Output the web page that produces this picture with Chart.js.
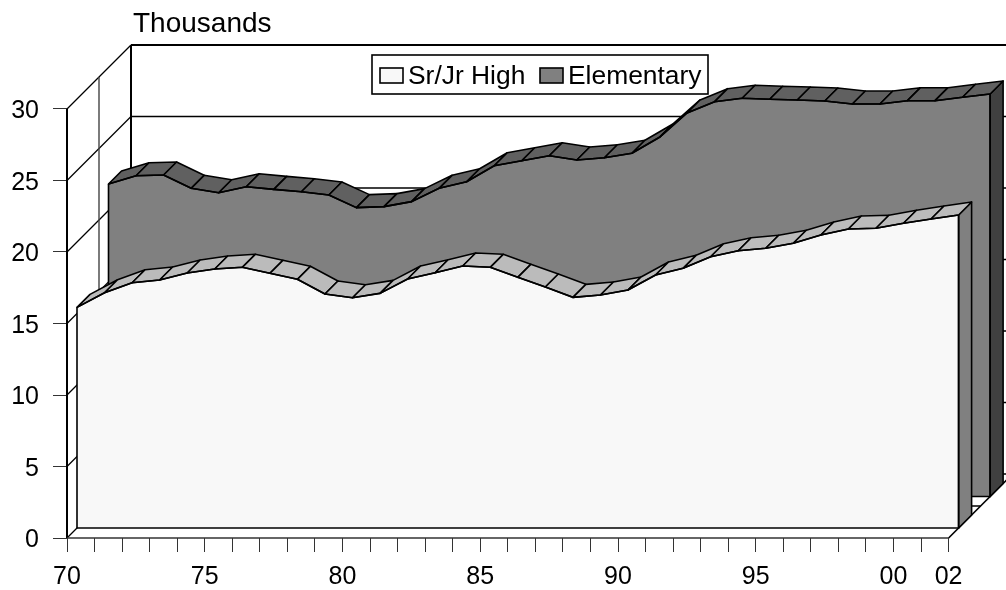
<!DOCTYPE html>
<html lang="en">
<head>
<meta charset="utf-8" />
<title>Enrollment</title>
<script src="https://cdn.jsdelivr.net/npm/chart.js"></script>
<style>
  html, body { margin: 0; padding: 0; background: #fff; }
  canvas { display: block; }
</style>
</head>
<body>
<canvas id="chart" width="1006" height="590"></canvas>
<script>
// data (thousands)
const years = [70,71,72,73,74,75,76,77,78,79,80,81,82,83,84,85,86,87,88,89,90,91,92,93,94,95,96,97,98,99,100,101,102];
const srJrHigh = [15.43,16.45,17.15,17.34,17.83,18.11,18.23,17.81,17.39,16.36,16.10,16.41,17.41,17.85,18.32,18.23,17.53,16.85,16.13,16.29,16.64,17.69,18.16,18.97,19.39,19.56,19.91,20.49,20.91,20.96,21.31,21.61,21.89];
const elementary = [21.85,22.43,22.48,21.55,21.24,21.66,21.48,21.31,21.08,20.20,20.27,20.62,21.55,22.01,23.13,23.48,23.83,23.53,23.69,24.00,25.12,26.82,27.61,27.85,27.78,27.73,27.66,27.45,27.45,27.68,27.68,27.92,28.15];
const seriesNames = ["Sr/Jr High", "Elementary"];
const yTicks = [0,5,10,15,20,25,30];
const xTickLabels = {70:"70",75:"75",80:"80",85:"85",90:"90",95:"95",100:"00",102:"02"};
const unitLabel = "Thousands";

// 3D look: every series sits on its own plane, pushed back along the diagonal
const PX_PER_YEAR = 27.55, PX_PER_UNIT = 14.3;
const LEFT = 67, TOP = 45, BOTTOM = 538, WIDTH = 1006, HEIGHT = 590;
const X_SPAN = (WIDTH - LEFT) / PX_PER_YEAR, Y_SPAN = (BOTTOM - TOP) / PX_PER_UNIT;
const WALL_DEPTH = 64, MID_DEPTH = 32, SERIES_DEPTH = 13;
const FONT = '"Liberation Sans", Arial, sans-serif';

function planeX(shift) {
  const min = 70 - shift / PX_PER_YEAR;
  return { type: "linear", display: false, min: min, max: min + X_SPAN };
}
function planeY(shift) {
  const min = -shift / PX_PER_UNIT;
  return { type: "linear", display: false, min: min, max: min + Y_SPAN };
}
function toPoints(values) {
  return values.map((v, i) => ({ x: years[i], y: v }));
}
function segment(ctx, x1, y1, x2, y2, width, color) {
  ctx.beginPath();
  ctx.moveTo(x1, y1);
  ctx.lineTo(x2, y2);
  ctx.lineWidth = width;
  ctx.strokeStyle = color;
  ctx.stroke();
}
function polygon(ctx, pts, fill) {
  ctx.beginPath();
  pts.forEach((p, i) => i ? ctx.lineTo(p[0], p[1]) : ctx.moveTo(p[0], p[1]));
  ctx.closePath();
  ctx.fillStyle = fill;
  ctx.fill();
  ctx.lineWidth = 1.6;
  ctx.strokeStyle = "#000";
  ctx.lineJoin = "round";
  ctx.stroke();
}

const wallPlugin = {
  id: "wall",
  beforeDatasetsDraw(chart) {
    const ctx = chart.ctx, xs = chart.scales.x, ys = chart.scales.y;
    const x0 = xs.getPixelForValue(70), x1 = xs.getPixelForValue(102), y0 = ys.getPixelForValue(0);
    ctx.save();
    yTicks.forEach(v => {
      const y = ys.getPixelForValue(v);
      segment(ctx, x0, y, x0 + WALL_DEPTH, y - WALL_DEPTH, 1.3, "#000");
      segment(ctx, x0 + WALL_DEPTH, y - WALL_DEPTH, WIDTH, y - WALL_DEPTH, v === 30 ? 2 : 1.3, "#000");
    });
    segment(ctx, x0, ys.getPixelForValue(30), x0, y0, 2, "#000");
    segment(ctx, x0 + WALL_DEPTH, ys.getPixelForValue(30) - WALL_DEPTH, x0 + WALL_DEPTH, y0 - WALL_DEPTH, 2, "#000");
    // floor
    segment(ctx, x0, y0, x1, y0, 1.3, "#333");
    segment(ctx, x1, y0, x1 + WALL_DEPTH, y0 - WALL_DEPTH, 1.6, "#000");
    // divider between the two series planes
    segment(ctx, x0 + MID_DEPTH, ys.getPixelForValue(30) - MID_DEPTH, x0 + MID_DEPTH, y0 - MID_DEPTH, 1.4, "#444");
    segment(ctx, x0 + MID_DEPTH, y0 - MID_DEPTH, x1 + MID_DEPTH, y0 - MID_DEPTH, 1.3, "#000");
    ctx.restore();
  },
  beforeDatasetDraw(chart, args) {
    const ctx = chart.ctx, ds = chart.data.datasets[args.index], pts = args.meta.data;
    const base = args.meta.yScale.getPixelForValue(0), d = SERIES_DEPTH;
    ctx.save();
    // end face
    const e = pts[pts.length - 1];
    polygon(ctx, [[e.x, e.y], [e.x + d, e.y - d], [e.x + d, base - d], [e.x, base]], ds.sideColor);
    // top strip, one facet per year
    for (let i = 0; i < pts.length - 1; i++) {
      const a = pts[i], b = pts[i + 1];
      polygon(ctx, [[a.x, a.y], [b.x, b.y], [b.x + d, b.y - d], [a.x + d, a.y - d]], ds.topColor);
    }
    ctx.restore();
  },
  afterDatasetDraw(chart, args) {
    const ctx = chart.ctx, pts = args.meta.data;
    const base = args.meta.yScale.getPixelForValue(0);
    const a = pts[0], e = pts[pts.length - 1];
    ctx.save();
    ctx.beginPath();
    ctx.moveTo(a.x, a.y);
    ctx.lineTo(a.x, base);
    ctx.lineTo(e.x, base);
    ctx.lineTo(e.x, e.y);
    ctx.lineWidth = 1.6;
    ctx.strokeStyle = "#000";
    ctx.stroke();
    ctx.restore();
  },
  afterDatasetsDraw(chart) {
    const ctx = chart.ctx;
    ctx.save();
    ctx.fillStyle = "#000";
    ctx.textBaseline = "alphabetic";
    ctx.font = "28px " + FONT;
    ctx.fillText(unitLabel, 133, 32);
    // legend
    ctx.fillStyle = "#fff";
    ctx.fillRect(372, 55, 336, 39);
    ctx.lineWidth = 1.6;
    ctx.strokeStyle = "#000";
    ctx.strokeRect(372, 55, 336, 39);
    ctx.font = "26.4px " + FONT;
    [380, 540].forEach((x, i) => {
      ctx.fillStyle = chart.data.datasets[i].backgroundColor;
      ctx.fillRect(x, 68, 23, 15);
      ctx.strokeRect(x, 68, 23, 15);
      ctx.fillStyle = "#000";
      ctx.fillText(chart.data.datasets[i].label, x + 28, 84);
    });
    ctx.restore();
  }
};

new Chart(document.getElementById("chart"), {
  type: "line",
  data: {
    datasets: [
      { label: seriesNames[0], data: toPoints(srJrHigh), xAxisID: "xFront", yAxisID: "yFront",
        backgroundColor: "#f8f8f8", topColor: "#bbbbbb", sideColor: "#808080" },
      { label: seriesNames[1], data: toPoints(elementary), xAxisID: "xBack", yAxisID: "yBack",
        backgroundColor: "#808080", topColor: "#606060", sideColor: "#404040" }
    ].map(ds => Object.assign(ds, {
      fill: "origin", borderColor: "#000", borderWidth: 1.6, pointRadius: 0, tension: 0, clip: false
    }))
  },
  options: {
    responsive: false,
    animation: false,
    layout: { autoPadding: false, padding: { top: TOP, left: 0, right: 0, bottom: 0 } },
    plugins: { legend: { display: false }, tooltip: { enabled: false } },
    scales: {
      x: {
        type: "linear", position: "bottom", min: 70, max: 70 + X_SPAN,
        afterBuildTicks(axis) { axis.ticks = years.map(v => ({ value: v })); },
        afterFit(axis) { axis.height = HEIGHT - BOTTOM; },
        grid: { drawOnChartArea: false, tickLength: 14, color: "#333", lineWidth: 1 },
        border: { display: false },
        ticks: {
          autoSkip: false, maxRotation: 0, padding: 10, color: "#000",
          font: { family: FONT, size: 25 },
          callback: v => xTickLabels[v] || ""
        }
      },
      y: {
        type: "linear", position: "left", min: 0, max: Y_SPAN,
        afterBuildTicks(axis) { axis.ticks = yTicks.map(v => ({ value: v })); },
        afterFit(axis) { axis.width = LEFT; },
        grid: { drawOnChartArea: false, tickLength: 14, color: "#333", lineWidth: 1 },
        border: { display: false },
        ticks: {
          padding: 14, color: "#000",
          // empty first line with a small line height nudges the label down a bit
          font: { family: FONT, size: 25, lineHeight: 0.2 },
          callback: v => ["", String(v)]
        }
      },
      xFront: planeX(10), yFront: planeY(10),
      xBack: planeX(41.5), yBack: planeY(41.5)
    }
  },
  plugins: [wallPlugin]
});
</script>
</body>
</html>
